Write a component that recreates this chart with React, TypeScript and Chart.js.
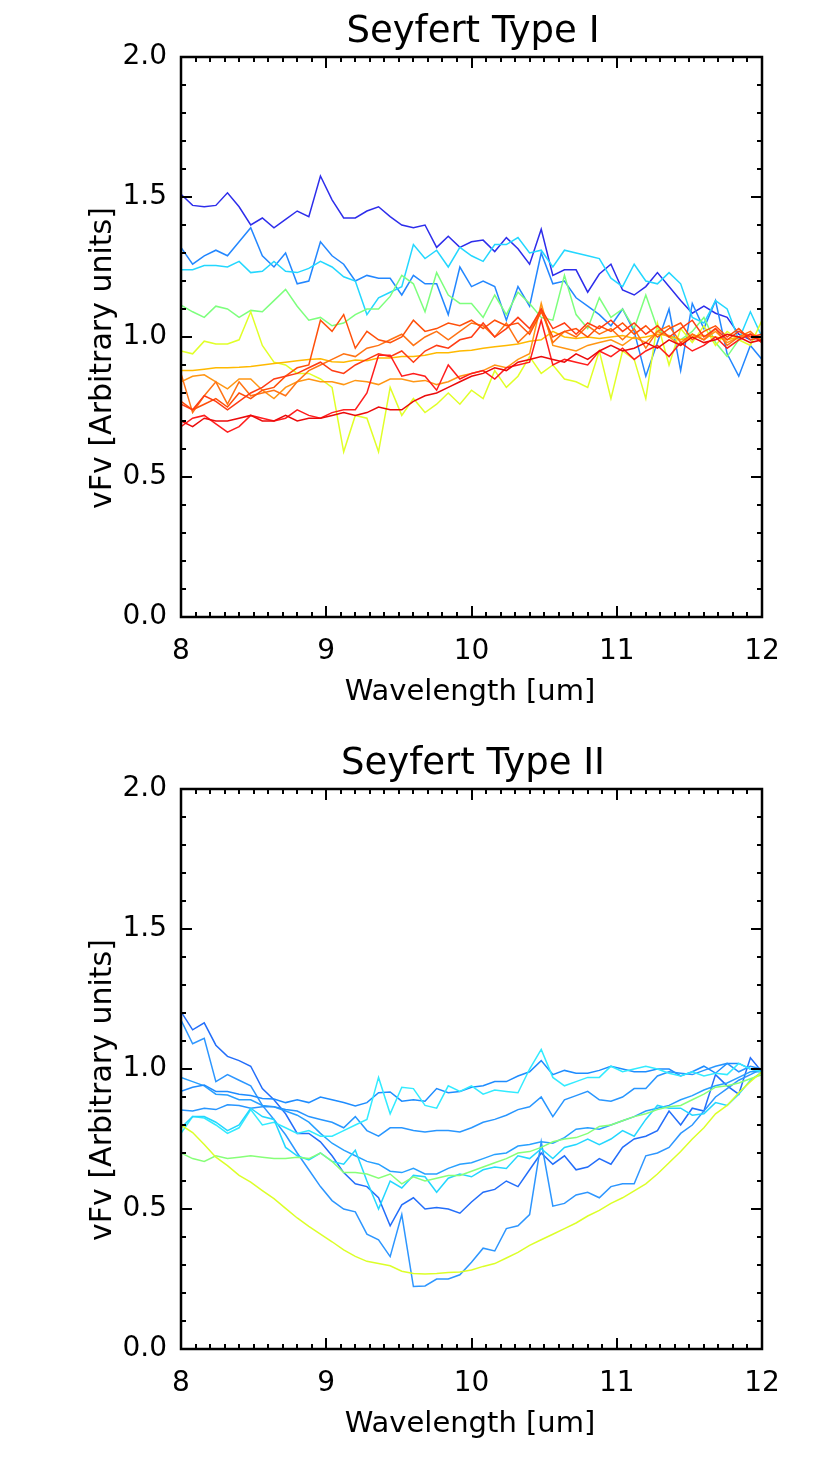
import React, { useEffect, useRef } from "react";
import { Chart, registerables } from "chart.js";

Chart.register(...registerables);

// ---------- data ----------
const WAVELENGTH = [
  8.0, 8.08, 8.16, 8.24, 8.32, 8.4, 8.48, 8.56, 8.64, 8.72, 8.8, 8.88, 8.96, 9.04, 9.12, 9.2, 9.28,
  9.36, 9.44, 9.52, 9.6, 9.68, 9.76, 9.84, 9.92, 10.0, 10.08, 10.16, 10.24, 10.32, 10.4, 10.48,
  10.56, 10.64, 10.72, 10.8, 10.88, 10.96, 11.04, 11.12, 11.2, 11.28, 11.36, 11.44, 11.52, 11.6,
  11.68, 11.76, 11.84, 11.92, 12.0,
];

const X_MIN = 8;
const X_MAX = 12;
const X_STEP = 1;
const Y_MIN = 0;
const Y_MAX = 2;
const Y_STEP = 0.5;

// Seyfert Type I
const T1_DARK_BLUE = [1.51,1.47,1.465,1.47,1.515,1.465,1.40,1.425,1.39,1.42,1.45,1.43,1.575,1.49,1.425,1.425,1.45,1.465,1.43,1.40,1.39,1.40,1.32,1.36,1.32,1.34,1.346,1.305,1.355,1.315,1.26,1.385,1.22,1.24,1.24,1.16,1.225,1.26,1.168,1.15,1.18,1.23,1.18,1.13,1.085,1.11,1.085,1.07,1.01,0.99,1.00];
const T1_BLUE = [1.32,1.26,1.29,1.31,1.29,1.34,1.39,1.29,1.25,1.30,1.19,1.20,1.34,1.29,1.26,1.20,1.22,1.21,1.21,1.15,1.22,1.19,1.19,1.08,1.25,1.18,1.20,1.18,1.06,1.18,1.11,1.30,1.19,1.20,1.14,1.11,1.08,1.04,1.10,1.02,0.86,0.98,1.10,0.88,1.12,1.03,1.13,0.94,0.86,0.97,0.92];
const T1_CYAN = [1.24,1.24,1.255,1.255,1.25,1.27,1.23,1.235,1.27,1.235,1.23,1.245,1.27,1.25,1.215,1.20,1.08,1.14,1.16,1.18,1.33,1.28,1.31,1.25,1.32,1.29,1.27,1.33,1.33,1.355,1.30,1.31,1.25,1.31,1.30,1.29,1.28,1.21,1.18,1.26,1.20,1.19,1.23,1.19,1.07,1.05,1.13,1.10,0.99,1.09,1.00];
const T1_GREEN = [1.114,1.09,1.07,1.11,1.10,1.07,1.095,1.09,1.13,1.17,1.11,1.06,1.07,1.04,1.05,1.08,1.10,1.10,1.145,1.22,1.19,1.09,1.23,1.15,1.12,1.12,1.07,1.15,1.08,1.16,1.12,1.07,1.06,1.22,1.08,1.03,1.14,1.07,1.10,1.03,1.15,1.03,1.00,0.99,1.02,1.07,0.98,0.93,0.99,1.01,0.98];
const T1_YELLOW = [0.95,0.94,0.985,0.975,0.975,0.99,1.09,0.97,0.91,0.90,0.87,0.87,0.85,0.82,0.59,0.72,0.71,0.59,0.82,0.72,0.78,0.73,0.76,0.80,0.76,0.81,0.78,0.88,0.82,0.86,0.93,0.87,0.90,0.85,0.84,0.82,0.95,0.78,0.95,0.92,0.78,1.05,0.90,1.03,0.98,1.04,0.97,1.02,0.99,0.97,1.06];
const T1_GOLD = [0.88,0.88,0.885,0.89,0.89,0.892,0.895,0.90,0.905,0.91,0.915,0.92,0.922,0.912,0.91,0.918,0.915,0.925,0.925,0.93,0.93,0.935,0.944,0.944,0.95,0.953,0.96,0.965,0.97,0.975,0.985,0.99,1.02,1.00,0.995,1.00,0.995,1.00,1.005,0.995,1.0,1.01,1.005,0.99,1.0,1.005,1.0,0.99,1.0,1.01,1.0];
const T1_ORANGE = [0.84,0.86,0.865,0.84,0.815,0.85,0.85,0.81,0.78,0.82,0.84,0.85,0.84,0.84,0.83,0.845,0.84,0.83,0.85,0.85,0.84,0.845,0.83,0.84,0.86,0.87,0.88,0.90,0.89,0.92,0.94,1.12,0.97,0.96,0.95,0.97,0.98,0.99,0.97,1.00,0.98,1.02,1.00,0.97,1.01,0.99,1.02,0.98,1.00,1.01,0.99];
const T1_DARK_ORANGE = [0.87,0.73,0.79,0.84,0.76,0.84,0.79,0.80,0.81,0.79,0.84,0.88,0.90,0.92,0.94,0.93,0.96,0.97,0.99,1.01,0.97,1.00,1.02,0.99,1.02,1.05,1.04,1.00,1.05,0.98,1.02,1.10,0.98,1.02,1.00,1.04,1.01,1.03,0.99,1.03,0.96,1.02,1.04,0.98,1.01,0.99,1.03,0.97,1.00,1.02,0.98];
const T1_ORANGE_RED = [0.77,0.74,0.76,0.78,0.75,0.80,0.78,0.81,0.82,0.86,0.89,0.90,1.06,1.02,1.08,0.96,1.02,0.99,0.98,1.00,1.06,1.02,1.03,1.05,1.04,1.06,1.03,1.06,1.04,1.05,1.01,1.09,1.00,1.02,1.03,1.00,1.04,1.02,1.05,1.01,1.04,1.00,1.03,1.05,0.99,1.02,1.04,1.00,1.03,0.99,1.00];
const T1_RED_ORANGE = [0.76,0.74,0.79,0.77,0.74,0.77,0.80,0.82,0.85,0.86,0.87,0.89,0.91,0.88,0.87,0.90,0.92,0.94,0.93,0.95,0.91,0.95,0.97,0.96,0.99,1.00,1.05,1.00,1.03,1.07,1.03,1.10,1.03,1.05,1.01,1.05,1.03,1.06,1.02,1.05,1.01,1.04,1.00,1.03,1.06,1.00,1.03,0.99,1.02,1.00,1.01];
const T1_RED = [0.68,0.71,0.72,0.69,0.66,0.68,0.72,0.71,0.70,0.71,0.74,0.72,0.71,0.73,0.74,0.74,0.80,0.935,0.935,0.86,0.87,0.86,0.81,0.90,0.85,0.87,0.88,0.85,0.89,0.90,0.91,1.06,0.90,0.92,0.91,0.90,0.95,0.93,0.96,0.92,0.95,0.97,0.93,0.98,0.95,0.97,1.00,0.96,0.99,1.01,0.98];
const T1_DARK_RED = [0.70,0.68,0.71,0.70,0.70,0.71,0.72,0.70,0.70,0.72,0.70,0.71,0.71,0.72,0.73,0.72,0.73,0.75,0.74,0.74,0.77,0.79,0.80,0.82,0.84,0.86,0.87,0.89,0.88,0.91,0.92,0.93,0.92,0.91,0.94,0.92,0.95,0.97,0.95,0.96,0.98,0.96,0.99,0.97,1.00,0.98,0.99,1.01,1.00,0.98,0.99];

const TYPE1_SERIES = [
  T1_DARK_BLUE, T1_BLUE, T1_CYAN, T1_GREEN, T1_YELLOW, T1_GOLD,
  T1_ORANGE, T1_DARK_ORANGE, T1_ORANGE_RED, T1_RED_ORANGE, T1_RED, T1_DARK_RED,
];
const TYPE1_COLORS = [
  "rgb(45,45,235)", "rgb(35,135,255)", "rgb(35,215,255)", "rgb(125,255,125)",
  "rgb(225,255,40)", "rgb(255,185,0)", "rgb(255,150,20)", "rgb(255,115,20)",
  "rgb(255,80,10)", "rgb(255,60,20)", "rgb(255,30,30)", "rgb(235,10,10)",
];

// Seyfert Type II
const T2_BLUE_A = [1.205,1.14,1.165,1.085,1.045,1.03,1.01,0.93,0.89,0.84,0.77,0.77,0.74,0.69,0.63,0.59,0.58,0.54,0.44,0.515,0.54,0.50,0.505,0.50,0.485,0.525,0.56,0.57,0.60,0.58,0.64,0.70,0.66,0.69,0.64,0.65,0.68,0.66,0.72,0.75,0.76,0.78,0.85,0.80,0.86,0.85,0.98,0.94,0.91,1.04,0.99];
const T2_BLUE_B = [1.175,1.09,1.11,0.955,0.98,0.96,0.94,0.87,0.82,0.765,0.70,0.64,0.58,0.53,0.50,0.49,0.41,0.39,0.33,0.48,0.223,0.225,0.25,0.25,0.265,0.31,0.36,0.35,0.43,0.44,0.48,0.74,0.51,0.52,0.55,0.56,0.54,0.58,0.59,0.59,0.69,0.70,0.72,0.77,0.80,0.85,0.90,0.93,0.96,0.98,1.0];
const T2_BLUE_C = [0.97,0.955,0.94,0.91,0.907,0.89,0.89,0.87,0.865,0.85,0.835,0.81,0.77,0.735,0.71,0.69,0.67,0.66,0.635,0.63,0.645,0.625,0.625,0.645,0.66,0.665,0.68,0.695,0.70,0.725,0.73,0.74,0.735,0.755,0.785,0.79,0.785,0.80,0.815,0.83,0.85,0.86,0.87,0.89,0.905,0.925,0.94,0.95,0.97,0.99,0.99];
const T2_BLUE_D = [0.92,0.935,0.943,0.92,0.92,0.91,0.905,0.895,0.893,0.88,0.89,0.88,0.90,0.89,0.88,0.868,0.88,0.915,0.918,0.885,0.89,0.885,0.93,0.915,0.92,0.935,0.94,0.955,0.955,0.975,0.99,1.03,0.98,0.995,0.985,0.985,0.995,1.01,1.00,0.99,0.99,1.00,1.00,0.975,0.99,1.01,0.985,1.02,1.02,1.00,0.99];
const T2_BLUE_E = [0.854,0.85,0.86,0.855,0.872,0.87,0.86,0.865,0.865,0.855,0.85,0.83,0.82,0.81,0.79,0.83,0.78,0.76,0.79,0.79,0.78,0.775,0.78,0.78,0.775,0.79,0.81,0.82,0.835,0.855,0.865,0.90,0.83,0.89,0.905,0.92,0.89,0.885,0.90,0.93,0.93,0.975,0.99,0.985,0.98,0.995,1.01,1.02,0.99,1.01,1.00];
const T2_CYAN_A = [0.77,0.83,0.825,0.80,0.77,0.79,0.855,0.80,0.81,0.79,0.77,0.78,0.76,0.76,0.78,0.80,0.82,0.97,0.84,0.935,0.93,0.87,0.86,0.94,0.92,0.94,0.91,0.925,0.92,0.915,1.00,1.07,0.97,0.94,0.955,0.97,0.97,1.01,0.99,1.0,1.01,1.0,0.985,0.975,0.99,0.975,0.985,0.98,1.02,1.0,0.99];
const T2_CYAN_B = [0.79,0.83,0.83,0.81,0.78,0.80,0.86,0.83,0.82,0.72,0.69,0.675,0.70,0.67,0.66,0.71,0.60,0.50,0.60,0.575,0.62,0.615,0.56,0.61,0.625,0.615,0.64,0.65,0.645,0.69,0.68,0.715,0.68,0.72,0.73,0.75,0.73,0.75,0.78,0.76,0.82,0.87,0.86,0.86,0.835,0.84,0.88,0.87,0.91,0.96,0.99];
const T2_GREEN = [0.70,0.68,0.67,0.69,0.68,0.685,0.69,0.685,0.68,0.68,0.685,0.68,0.70,0.67,0.63,0.63,0.625,0.61,0.625,0.59,0.615,0.60,0.61,0.62,0.62,0.635,0.65,0.665,0.68,0.70,0.705,0.72,0.74,0.75,0.755,0.77,0.795,0.80,0.815,0.83,0.84,0.855,0.865,0.87,0.89,0.91,0.935,0.94,0.95,0.965,0.98];
const T2_YELLOW = [0.80,0.773,0.73,0.685,0.655,0.62,0.596,0.566,0.537,0.502,0.468,0.438,0.41,0.383,0.354,0.331,0.313,0.305,0.297,0.278,0.27,0.268,0.27,0.273,0.275,0.282,0.295,0.305,0.325,0.345,0.37,0.39,0.41,0.43,0.45,0.475,0.495,0.52,0.54,0.565,0.59,0.625,0.665,0.705,0.75,0.79,0.84,0.87,0.915,0.955,0.99];

const TYPE2_SERIES = [
  T2_BLUE_A, T2_BLUE_B, T2_BLUE_C, T2_BLUE_D, T2_BLUE_E,
  T2_CYAN_A, T2_CYAN_B, T2_GREEN, T2_YELLOW,
];
const TYPE2_COLORS = [
  "rgb(35,110,250)", "rgb(45,150,255)", "rgb(40,160,255)", "rgb(30,140,255)",
  "rgb(40,150,255)", "rgb(50,235,255)", "rgb(35,215,255)", "rgb(135,255,120)",
  "rgb(220,255,40)",
];

const TITLE_1 = "Seyfert Type I";
const TITLE_2 = "Seyfert Type II";
const X_LABEL = "Wavelength [um]";
const Y_LABEL = "vFv [Arbitrary units]";

// ---------- drawing ----------
const FONT = '"DejaVu Sans", "Noto Sans", sans-serif';
const W = 814;
const H = 732;

const framePlugin = {
  id: "idlFrame",
  afterDraw(chart: any, _args: any, opts: any) {
    const { ctx, chartArea, scales } = chart;
    const { left, right, top, bottom } = chartArea;
    const xs = scales.x;
    const ys = scales.y;
    ctx.save();
    ctx.strokeStyle = "#000";
    ctx.lineWidth = 2.5;
    ctx.lineCap = "butt";
    ctx.strokeRect(left, top, right - left, bottom - top);

    ctx.beginPath();
    ctx.lineWidth = 2;
    const xCount = Math.round((X_MAX - X_MIN) * 10);
    for (let k = 0; k <= xCount; k++) {
      const v = X_MIN + k / 10;
      const px = Math.round(xs.getPixelForValue(v));
      const len = k % 10 === 0 ? 11 : 5;
      ctx.moveTo(px, bottom);
      ctx.lineTo(px, bottom - len);
      ctx.moveTo(px, top);
      ctx.lineTo(px, top + len);
    }
    const yCount = Math.round((Y_MAX - Y_MIN) * 10);
    for (let k = 0; k <= yCount; k++) {
      const v = Y_MIN + k / 10;
      const py = Math.round(ys.getPixelForValue(v));
      const len = k % 5 === 0 ? 11 : 5;
      ctx.moveTo(left, py);
      ctx.lineTo(left + len, py);
      ctx.moveTo(right, py);
      ctx.lineTo(right - len, py);
    }
    ctx.stroke();

    ctx.fillStyle = "#000";
    ctx.textAlign = "center";
    ctx.textBaseline = "alphabetic";
    ctx.font = `37px ${FONT}`;
    ctx.fillText(opts.title, 473, 42);
    ctx.font = `29px ${FONT}`;
    ctx.fillText(X_LABEL, 470, 700);
    ctx.save();
    ctx.translate(111, 358);
    ctx.rotate(-Math.PI / 2);
    ctx.font = `30px ${FONT}`;
    ctx.fillText(Y_LABEL, 0, 0);
    ctx.restore();
    ctx.restore();
  },
};

function Panel({ title, series, colors }: { title: string; series: number[][]; colors: string[] }) {
  const ref = useRef<HTMLCanvasElement | null>(null);
  useEffect(() => {
    const canvas = ref.current;
    if (!canvas) return;
    const n = series.length;
    const datasets = series.map((vals, i) => ({
      data: vals.map((v, j) => ({ x: WAVELENGTH[j], y: v })),
      borderColor: colors[i],
      backgroundColor: colors[i],
      borderWidth: 1.5,
      pointRadius: 0,
      fill: false,
      tension: 0,
      order: n - i,
    }));
    const tickFont = { family: FONT, size: 28 };
    const chart = new Chart(canvas, {
      type: "line",
      data: { datasets },
      plugins: [framePlugin],
      options: {
        responsive: false,
        animation: false,
        devicePixelRatio: 1,
        events: [],
        layout: { padding: { top: 57, right: 52, bottom: 0, left: 0 } },
        plugins: {
          legend: { display: false },
          title: { display: false },
          tooltip: { enabled: false },
          idlFrame: { title },
        } as any,
        scales: {
          x: {
            type: "linear",
            min: X_MIN,
            max: X_MAX,
            grid: { display: false, drawTicks: false, tickLength: 0 },
            border: { display: false },
            ticks: {
              stepSize: X_STEP,
              padding: 18,
              color: "#000",
              font: tickFont,
              maxRotation: 0,
              autoSkip: false,
              callback: (v: any) => String(v),
            },
            afterFit: (s: any) => {
              s.height = H - 617;
              s.paddingLeft = 0;
              s.paddingRight = 0;
            },
          },
          y: {
            type: "linear",
            min: Y_MIN,
            max: Y_MAX,
            grid: { display: false, drawTicks: false, tickLength: 0 },
            border: { display: false },
            ticks: {
              stepSize: Y_STEP,
              padding: 14,
              color: "#000",
              font: tickFont,
              callback: (v: any) => Number(v).toFixed(1),
            },
            afterFit: (s: any) => {
              s.width = 181;
              s.paddingTop = 0;
              s.paddingBottom = 0;
            },
          },
        },
      } as any,
    });
    return () => chart.destroy();
  }, [title, series, colors]);
  return <canvas ref={ref} width={W} height={H} style={{ display: "block", width: W, height: H }} />;
}

export default function App() {
  useEffect(() => {
    document.body.style.margin = "0";
    document.body.style.background = "#fff";
  }, []);
  return (
    <div style={{ width: W, height: 1466, background: "#fff" }}>
      <Panel title={TITLE_1} series={TYPE1_SERIES} colors={TYPE1_COLORS} />
      <Panel title={TITLE_2} series={TYPE2_SERIES} colors={TYPE2_COLORS} />
    </div>
  );
}
